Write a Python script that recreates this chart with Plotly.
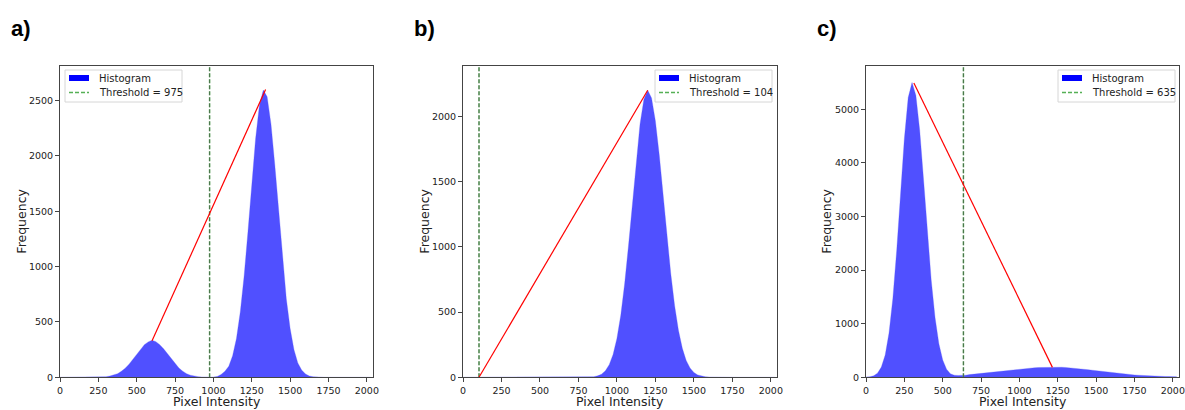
import plotly.graph_objects as go

intensity = list(range(0, 2050, 25))  # 0 .. 2025

hist_a = [0, 0, 0, 0, 0, 0, 0, 0, 0, 0, 0, 3,                       # 0..275
          6, 11, 19, 33, 54, 82, 119, 163, 210, 256,                  # 300..525
          295, 320, 335, 322, 295, 258, 212, 165, 120, 84,            # 550..775
          55, 33, 19, 11, 6, 3, 1, 1, 2, 8,                           # 800..1025
          25, 55, 100, 195, 350, 590, 915, 1315, 1750, 2160,          # 1050..1275
          2460, 2595, 2535, 2290, 1920, 1490, 1070, 710, 440, 250,    # 1300..1525
          130, 65, 30, 12, 5, 2, 0, 0, 0, 0,                          # 1550..1775
          0, 0, 0, 0, 0, 0, 0, 0, 0, 0]                               # 1800..2025
hist_b = [0] * 31 + [0, 1, 2, 5, 11, 24, 50, 97, 175, 298,          # 775..1000
          475, 715, 1007, 1335, 1660, 1940, 2130, 2200, 2140, 1965,   # 1025..1250
          1705, 1400, 1083, 793, 549, 359, 222, 129, 71, 37,          # 1275..1500
          18, 9, 4, 2, 1, 0]                                          # 1525..1650 (rest 0)
hist_b += [0] * (len(intensity) - len(hist_b))
hist_c = [5, 9, 28, 77, 190, 416, 825, 1472, 2365, 3423, 4455, 5218,   # 0..275
          5500, 5262, 4608, 3692, 2707, 1816, 1117, 627, 323, 152, 65,  # 300..550
          40, 35, 35, 40, 50, 58, 65, 73, 82, 90, 100, 108, 117, 125,   # 575..900
          133, 140, 148, 155, 162, 168, 174, 179, 183, 186, 189, 190,   # 925..1200
          191, 190, 188, 184, 179, 173, 166, 158, 150, 141, 132, 123,   # 1225..1500
          113, 104, 95, 86, 78, 70, 63, 56, 50, 44, 39, 34, 30, 26, 23, # 1525..1875
          20, 17, 15, 13, 11, 10]                                        # 1900..2025

thresholds = [975, 104, 635]
line_a = ([600, 1340], [330, 2600])
line_b = ([104, 1200], [0, 2200])
line_c = ([312, 1215], [5490, 185])
panel_labels = ["a)", "b)", "c)"]
legend_names = ["Histogram", "Threshold = {}"]
x_title = "Pixel Intensity"
y_title = "Frequency"
x_ticks = [0, 250, 500, 750, 1000, 1250, 1500, 1750, 2000]
y_ticks = [[0, 500, 1000, 1500, 2000, 2500],
           [0, 500, 1000, 1500, 2000],
           [0, 1000, 2000, 3000, 4000, 5000]]
y_ranges = [[0, 2813], [0, 2386], [0, 5808]]

# ---------------- figure ----------------
W, H = 1185, 410
panels_px = [(60, 373), (463, 777), (866, 1179)]
top_px, bot_px = 66, 377.3
y_dom = [1 - bot_px / H, 1 - top_px / H]
hists = [hist_a, hist_b, hist_c]
lines = [line_a, line_b, line_c]
legend_box_px = [(65, 182), (655, 772), (1058, 1175)]
ytitle_px = [22, 425, 827]


def px(xp):
    return xp / W


def py(yp):
    return 1 - yp / H


fig = go.Figure()
font_main = "DejaVu Sans"
for i in range(3):
    ax = "" if i == 0 else str(i + 1)
    xref, yref = "x" + ax, "y" + ax
    fig.add_trace(go.Scatter(x=intensity, y=hists[i], mode="lines",
                             line=dict(width=0.6, color="rgba(90,90,255,0.5)"),
                             fill="tozeroy", fillcolor="rgb(80,80,255)", showlegend=False,
                             xaxis=xref, yaxis=yref, hoverinfo="skip"))
    # threshold line (green dashed overlaid with dark dashed)
    fig.add_trace(go.Scatter(x=[thresholds[i], thresholds[i]], y=[y_ranges[i][0], y_ranges[i][1]], mode="lines",
                             line=dict(color="#5aa85a", dash="4px,2px", width=1.5), showlegend=False,
                             xaxis=xref, yaxis=yref, hoverinfo="skip"))
    fig.add_trace(go.Scatter(x=[thresholds[i], thresholds[i]], y=[y_ranges[i][0], y_ranges[i][1]], mode="lines",
                             line=dict(color="rgba(60,60,60,0.6)", dash="4px,2px", width=0.8), showlegend=False,
                             xaxis=xref, yaxis=yref, hoverinfo="skip"))
    # red line
    fig.add_trace(go.Scatter(x=lines[i][0], y=lines[i][1], mode="lines", line=dict(color="red", width=1.2),
                             showlegend=False, xaxis=xref, yaxis=yref, hoverinfo="skip"))

    x0, x1 = panels_px[i]
    axis_common = dict(showline=True, linecolor="#444", linewidth=1, mirror=True, ticks="outside",
                       ticklen=4, tickcolor="#444", showgrid=False, zeroline=False, automargin=False,
                       ticklabeloverflow="allow",
                       tickfont=dict(family=font_main, size=9.5, color="#222"))
    fig.layout["xaxis" + ax] = dict(domain=[px(x0), px(x1)], range=[0, 2040], tickvals=x_ticks,
                                    anchor=yref, **axis_common)
    fig.layout["yaxis" + ax] = dict(domain=y_dom, range=y_ranges[i], tickvals=y_ticks[i], anchor=xref,
                                    **axis_common)
    # axis titles
    fig.add_annotation(text=x_title, xref="paper", yref="paper", x=px((x0 + x1) / 2), y=py(401),
                       xanchor="center", yanchor="middle", showarrow=False,
                       font=dict(family=font_main, size=12.5, color="#222"))
    fig.add_annotation(text=y_title, xref="paper", yref="paper", x=px(ytitle_px[i]), y=py((top_px + bot_px) / 2),
                       xanchor="center", yanchor="middle", showarrow=False, textangle=-90,
                       font=dict(family=font_main, size=12.5, color="#222"))
    # panel label
    fig.add_annotation(text="<b>" + panel_labels[i] + "</b>", xref="paper", yref="paper",
                       x=px(x0 - 51), y=py(29), xanchor="left", yanchor="middle", showarrow=False,
                       font=dict(family="Liberation Sans", size=22, color="black"))
    # hand-drawn legend
    lx0, lx1 = legend_box_px[i]
    fig.add_shape(type="rect", xref="paper", yref="paper", x0=px(lx0), x1=px(lx1), y0=py(102), y1=py(70),
                  line=dict(color="#d6d6d6", width=1), fillcolor="rgba(255,255,255,0.85)", layer="above")
    fig.add_shape(type="rect", xref="paper", yref="paper", x0=px(lx0 + 4), x1=px(lx0 + 24), y0=py(81), y1=py(75),
                  line=dict(width=0), fillcolor="#0000ff", layer="above")
    fig.add_shape(type="line", xref="paper", yref="paper", x0=px(lx0 + 4), x1=px(lx0 + 24), y0=py(92.5), y1=py(92.5),
                  line=dict(color="#55b055", width=1.5, dash="4px,2px"), layer="above")
    fig.add_annotation(text=legend_names[0], xref="paper", yref="paper", x=px(lx0 + 32), y=py(78.5),
                       xanchor="left", yanchor="middle", showarrow=False,
                       font=dict(family=font_main, size=10, color="#222"))
    fig.add_annotation(text=legend_names[1].format(thresholds[i]), xref="paper", yref="paper",
                       x=px(lx0 + 32), y=py(92.5), xanchor="left", yanchor="middle", showarrow=False,
                       font=dict(family=font_main, size=10, color="#222"))

fig.update_layout(width=W, height=H, margin=dict(l=0, r=0, t=0, b=0), plot_bgcolor="white",
                  paper_bgcolor="white", showlegend=False)
fig.write_html("out.html", config={"displayModeBar": False},
               post_script="document.body.style.margin='0px';document.body.style.overflow='hidden';")
